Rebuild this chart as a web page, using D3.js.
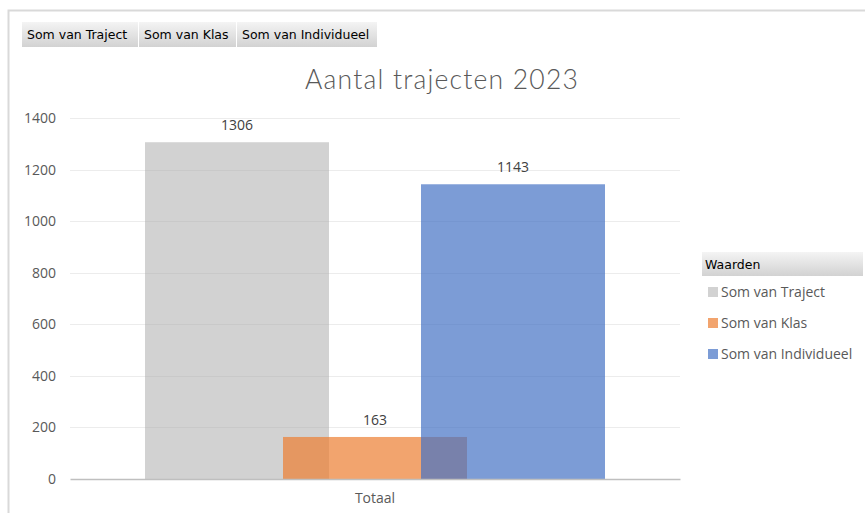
<!DOCTYPE html>
<html>
<head>
<meta charset="utf-8">
<script src="https://cdn.jsdelivr.net/npm/d3@7"></script>
<style>
  html, body { margin: 0; padding: 0; background: #fff; }
  svg { display: block; }
</style>
</head>
<body>
<svg id="chart" width="866" height="513"></svg>
<script>
// Pivot chart: totals per trajectory type for 2023
const categories = ["Totaal"];
const seriesNames = ["Som van Traject", "Som van Klas", "Som van Individueel"];
const seriesValues = [1306, 163, 1143];
const seriesColors = ["#a5a5a5", "#ed7d31", "#4472c4"];
const seriesOpacity = [0.5, 0.7, 0.7];
const yTicks = [0, 200, 400, 600, 800, 1000, 1200, 1400];
const chartTitle = "Aantal trajecten 2023";
const legendTitle = "Waarden";

const svg = d3.select("#chart");
const W = 866, H = 513;
const font = "'Open Sans', 'Noto Sans', sans-serif";
const uiFont = "'DejaVu Sans', Verdana, sans-serif";

// gradients for the pivot field buttons / legend header
const defs = svg.append("defs");
const grad = defs.append("linearGradient").attr("id", "btnGrad")
  .attr("x1", 0).attr("y1", 0).attr("x2", 0).attr("y2", 1);
grad.append("stop").attr("offset", "0%").attr("stop-color", "#f4f4f4");
grad.append("stop").attr("offset", "100%").attr("stop-color", "#d2d2d2");

// outer frame
svg.append("path")
  .attr("d", `M8.5,${H} V10.5 H865`)
  .attr("fill", "none").attr("stroke", "#d9d9d9").attr("stroke-width", 2);

// field buttons
const buttons = [
  { label: seriesNames[0], x: 22, w: 116 },
  { label: seriesNames[1], x: 139, w: 97 },
  { label: seriesNames[2], x: 237, w: 140 }
];
const btn = svg.append("g").selectAll("g").data(buttons).join("g")
  .attr("transform", d => `translate(${d.x},22)`);
btn.append("rect").attr("width", d => d.w).attr("height", 25).attr("fill", "url(#btnGrad)");
btn.append("text").attr("x", 5).attr("y", 17)
  .attr("font-family", uiFont).attr("font-size", 12.5).attr("fill", "#000")
  .text(d => d.label);

// scales
const plot = { left: 70, right: 680, top: 118, bottom: 479 };
const x = d3.scaleBand().domain(categories).range([plot.left, plot.right]);
const y = d3.scaleLinear().domain([0, 1400]).range([plot.bottom, plot.top]);
const barW = 184;
const xs = d3.scalePoint().domain(seriesNames)
  .range([x.bandwidth() / 2 - 138, x.bandwidth() / 2 + 138]);

// gridlines
svg.append("g").selectAll("line").data(yTicks.filter(t => t > 0)).join("line")
  .attr("x1", plot.left).attr("x2", plot.right)
  .attr("y1", d => Math.round(y(d)) + 0.5).attr("y2", d => Math.round(y(d)) + 0.5)
  .attr("stroke", "#ececec").attr("stroke-width", 1);

// y axis labels
const yAxis = d3.axisLeft(y).tickValues(yTicks).tickFormat(d3.format("d")).tickSize(0).tickPadding(0);
const yG = svg.append("g").attr("transform", `translate(56,0)`).call(yAxis);
yG.select(".domain").remove();
yG.selectAll("text").attr("font-family", font).attr("font-size", 14).attr("fill", "#595959");

// bars
const rows = seriesNames.map((s, i) => ({ name: s, value: seriesValues[i], color: seriesColors[i], op: seriesOpacity[i] }));
const cat = categories[0];
svg.append("g").selectAll("rect").data(rows).join("rect")
  .attr("x", d => x(cat) + xs(d.name) - barW / 2)
  .attr("width", barW)
  .attr("y", d => y(d.value))
  .attr("height", d => y(0) - y(d.value))
  .attr("fill", d => d.color).attr("fill-opacity", d => d.op);

// value labels
svg.append("g").selectAll("text").data(rows).join("text")
  .attr("x", d => x(cat) + xs(d.name))
  .attr("y", d => y(d.value) - 12)
  .attr("text-anchor", "middle")
  .attr("font-family", font).attr("font-size", 14).attr("fill", "#404040")
  .text(d => d.value);

// x axis
const xAxis = d3.axisBottom(x).tickSize(0).tickPadding(14);
const xG = svg.append("g").attr("transform", `translate(0,${plot.bottom})`).call(xAxis);
xG.select(".domain").attr("stroke", "#bfbfbf").attr("stroke-width", 1.5);
xG.selectAll("text").attr("font-family", font).attr("font-size", 14).attr("fill", "#595959");

// title
svg.append("text").attr("x", 442).attr("y", 89).attr("text-anchor", "middle")
  .attr("font-family", "Lato, 'Open Sans', sans-serif").attr("font-weight", 300)
  .attr("font-size", 26.5).attr("fill", "#595959").attr("letter-spacing", 1.2)
  .text(chartTitle);

// legend
const lg = svg.append("g").attr("transform", "translate(702,252)");
lg.append("rect").attr("width", 161).attr("height", 24).attr("fill", "url(#btnGrad)");
lg.append("text").attr("x", 3).attr("y", 17)
  .attr("font-family", uiFont).attr("font-size", 12.5).attr("fill", "#000")
  .text(legendTitle);
const li = lg.selectAll("g.item").data(rows).join("g").attr("class", "item")
  .attr("transform", (d, i) => `translate(6,${40 + i * 31})`);
li.append("rect").attr("x", 0).attr("y", -5).attr("width", 10).attr("height", 10)
  .attr("fill", d => d.color).attr("fill-opacity", d => d.op);
li.append("text").attr("x", 13).attr("y", 5)
  .attr("font-family", font).attr("font-size", 14).attr("fill", "#595959")
  .text(d => d.name);
</script>
</body>
</html>
